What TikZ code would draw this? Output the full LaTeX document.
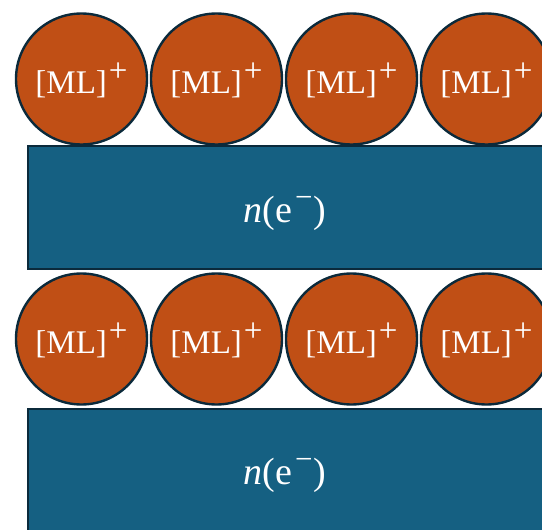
\documentclass[tikz,border=0pt]{standalone}
\usepackage{fontspec}
\setmainfont{Liberation Serif}
\definecolor{ionfill}{HTML}{C04F15}
\definecolor{layerfill}{HTML}{156082}
\definecolor{edgeline}{HTML}{0B2A3B}
% raised charge signs
\newcommand{\pluscharge}{\kern2pt\raisebox{12pt}{\fontsize{33}{33}\selectfont +}}
\newcommand{\minuscharge}{\kern3pt\raisebox{15pt}{\fontsize{31}{31}\selectfont −}\kern1pt}
\begin{document}
\begin{tikzpicture}[x=1pt,y=-1pt,
  ion/.style={circle, draw=edgeline, fill=ionfill, line width=2.4pt,
    minimum size=131pt, inner sep=0pt},
  iontext/.style={text=white, anchor=base, inner sep=0pt, font=\fontsize{33}{33}\selectfont},
  layer/.style={draw=edgeline, fill=layerfill, line width=2.4pt},
  layertext/.style={text=white, anchor=base, inner sep=0pt, font=\fontsize{38}{38}\selectfont}]
\useasboundingbox (0,0) rectangle (542,530);
\clip (0,0) rectangle (542,530);
% electron layers
\draw[layer] (28,146) rectangle (560,269);
\node[layertext] (e1) at (285,222) {\textit{n}(e\minuscharge)};
\draw[layer] (28,409) rectangle (560,560);
\node[layertext] (e2) at (285,484) {\textit{n}(e\minuscharge)};
% cation rows
\foreach \i/\x in {1/81.5,2/216.5,3/351.5,4/486.5}{
  \node[ion] (a\i) at (\x,79) {};
  \node[iontext] (ta\i) at (\x,93) {[ML]\pluscharge};
  \node[ion] (b\i) at (\x,339) {};
  \node[iontext] (tb\i) at (\x,353) {[ML]\pluscharge};
}
\end{tikzpicture}
\end{document}
